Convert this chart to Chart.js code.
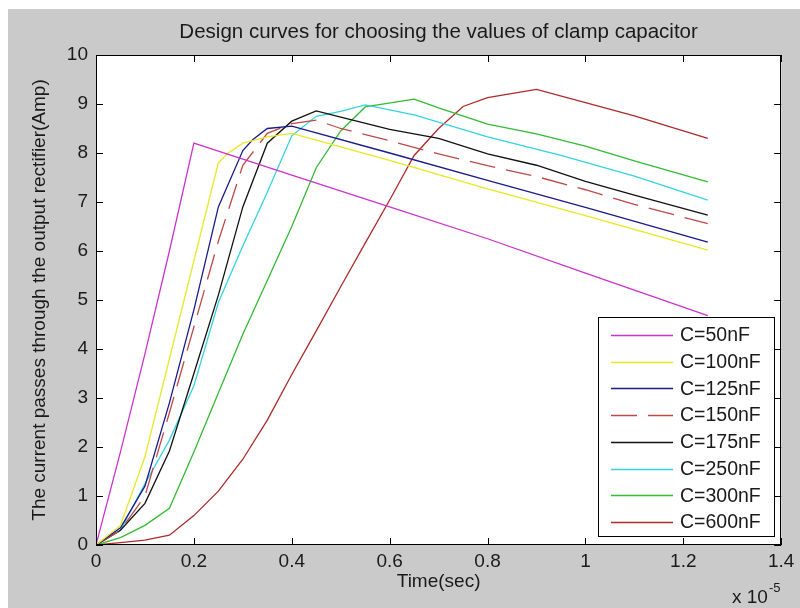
<!DOCTYPE html>
<html>
<head>
<meta charset="utf-8">
<script src="https://cdn.jsdelivr.net/npm/chart.js@4.4.1/dist/chart.umd.min.js"></script>
<style>
  html, body { margin: 0; padding: 0; background: #ffffff; }
  #wrap { width: 800px; height: 608px; position: relative; }
</style>
</head>
<body>
<div id="wrap"><canvas id="c" width="800" height="608"></canvas></div>
<script>
// ---- Data (time in units of 1e-5 s, current in A) ----
const seriesLabels = ['C=50nF', 'C=100nF', 'C=125nF', 'C=150nF', 'C=175nF', 'C=250nF', 'C=300nF', 'C=600nF'];

const t50  = [0, 0.05, 0.1, 0.15, 0.2, 0.4, 0.6, 0.8, 1.0, 1.1, 1.25];
const i50  = [0, 1.9, 3.9, 6.0, 8.2, 7.55, 6.9, 6.25, 5.55, 5.2, 4.68];

const t100 = [0, 0.05, 0.1, 0.15, 0.2, 0.25, 0.27, 0.3, 0.35, 0.4, 0.6, 0.8, 1.0, 1.25];
const i100 = [0, 0.4, 1.8, 3.8, 5.8, 7.8, 8.0, 8.2, 8.33, 8.4, 7.85, 7.27, 6.72, 6.02];

const t125 = [0, 0.05, 0.1, 0.15, 0.2, 0.25, 0.3, 0.32, 0.35, 0.4, 0.6, 0.8, 1.0, 1.25];
const i125 = [0, 0.35, 1.2, 2.9, 4.8, 6.9, 8.05, 8.27, 8.5, 8.55, 8.0, 7.44, 6.89, 6.18];

const t150 = [0, 0.05, 0.1, 0.15, 0.2, 0.25, 0.3, 0.35, 0.4, 0.45, 0.5, 0.6, 0.7, 0.8, 0.9, 1.0, 1.1, 1.25];
const i150 = [0, 0.3, 1.0, 2.7, 4.45, 6.2, 7.75, 8.4, 8.6, 8.67, 8.5, 8.25, 7.98, 7.74, 7.52, 7.25, 6.95, 6.56];

const t175 = [0, 0.05, 0.1, 0.15, 0.2, 0.25, 0.3, 0.35, 0.4, 0.45, 0.5, 0.6, 0.7, 0.8, 0.9, 1.0, 1.1, 1.25];
const i175 = [0, 0.3, 0.85, 1.92, 3.5, 5.1, 6.9, 8.2, 8.65, 8.86, 8.73, 8.48, 8.3, 7.98, 7.75, 7.42, 7.14, 6.73];

const t250 = [0, 0.05, 0.1, 0.15, 0.2, 0.25, 0.3, 0.35, 0.4, 0.45, 0.5, 0.55, 0.65, 0.8, 0.95, 1.1, 1.25];
const i250 = [0, 0.3, 1.25, 2.14, 3.25, 4.95, 6.1, 7.2, 8.35, 8.75, 8.85, 8.98, 8.78, 8.33, 7.95, 7.53, 7.04];

const t300 = [0, 0.05, 0.1, 0.15, 0.2, 0.25, 0.3, 0.35, 0.4, 0.45, 0.5, 0.55, 0.65, 0.7, 0.8, 0.9, 1.0, 1.1, 1.25];
const i300 = [0, 0.15, 0.4, 0.75, 1.9, 3.1, 4.3, 5.4, 6.5, 7.7, 8.45, 8.94, 9.1, 8.92, 8.59, 8.39, 8.14, 7.84, 7.41];

const t600 = [0, 0.05, 0.1, 0.15, 0.2, 0.25, 0.3, 0.35, 0.4, 0.45, 0.5, 0.55, 0.6, 0.65, 0.7, 0.75, 0.8, 0.9, 1.0, 1.1, 1.25];
const i600 = [0, 0.05, 0.1, 0.2, 0.6, 1.1, 1.75, 2.55, 3.48, 4.37, 5.27, 6.16, 7.04, 7.95, 8.5, 8.95, 9.13, 9.3, 9.03, 8.76, 8.3];

const xTickValues = [0, 0.2, 0.4, 0.6, 0.8, 1.0, 1.2, 1.4];
const xTickLabels = ['0', '0.2', '0.4', '0.6', '0.8', '1', '1.2', '1.4'];
const yTickValues = [0, 1, 2, 3, 4, 5, 6, 7, 8, 9, 10];
const yTickLabels = ['0', '1', '2', '3', '4', '5', '6', '7', '8', '9', '10'];

const titleText = 'Design curves for choosing the values of clamp capacitor';
const xTitle = 'Time(sec)';
const yTitle = 'The current passes through the output rectifier(Amp)';
const xExponent = '-5';

// ---- Styles ----
const FONT = "'Liberation Sans', Arial, Helvetica, sans-serif";
const TEXT = '#1a1a1a';
const styles = [
  { color: '#cc33cc', dash: [] },
  { color: '#e8e820', dash: [] },
  { color: '#1a1a8c', dash: [] },
  { color: '#c04848', dash: [26, 11] },
  { color: '#111111', dash: [] },
  { color: '#33d4e0', dash: [] },
  { color: '#33bb33', dash: [] },
  { color: '#b02a2a', dash: [] }
];

const times = [t50, t100, t125, t150, t175, t250, t300, t600];
const currents = [i50, i100, i125, i150, i175, i250, i300, i600];

const datasets = seriesLabels.map((lab, k) => ({
  label: lab,
  data: times[k].map((t, j) => ({ x: t, y: currents[k][j] })),
  borderColor: styles[k].color,
  backgroundColor: styles[k].color,
  borderDash: styles[k].dash,
  borderWidth: 1.3,
  pointRadius: 0,
  tension: 0,
  fill: false
}));

const bgPlugin = {
  id: 'bg',
  beforeDraw(chart) {
    const ctx = chart.ctx;
    ctx.save();
    ctx.fillStyle = '#ffffff';
    ctx.fillRect(0, 0, chart.width, chart.height);
    ctx.fillStyle = '#cacaca';
    ctx.fillRect(8, 9, chart.width - 8, chart.height - 9);
    const a = chart.chartArea;
    ctx.fillStyle = '#ffffff';
    ctx.fillRect(a.left, a.top, a.right - a.left, a.bottom - a.top);
    ctx.restore();
  }
};

const framePlugin = {
  id: 'frame',
  afterDatasetsDraw(chart) {
    const ctx = chart.ctx;
    const a = chart.chartArea;
    const xs = chart.scales.x, ys = chart.scales.y;
    const L = 7;
    ctx.save();
    ctx.strokeStyle = '#000000';
    ctx.lineWidth = 1;
    ctx.setLineDash([]);
    ctx.beginPath();
    xs.ticks.forEach(t => {
      const px = Math.round(xs.getPixelForValue(t.value)) + 0.5;
      ctx.moveTo(px, a.bottom); ctx.lineTo(px, a.bottom - L);
      ctx.moveTo(px, a.top); ctx.lineTo(px, a.top + L);
    });
    ys.ticks.forEach(t => {
      const py = Math.round(ys.getPixelForValue(t.value)) + 0.5;
      ctx.moveTo(a.left, py); ctx.lineTo(a.left + L, py);
      ctx.moveTo(a.right, py); ctx.lineTo(a.right - L, py);
    });
    ctx.stroke();
    ctx.strokeRect(Math.round(a.left) + 0.5, Math.round(a.top) + 0.5,
                   Math.round(a.right - a.left) - 1, Math.round(a.bottom - a.top) - 1);
    ctx.restore();
  },
  afterDraw(chart) {
    const ctx = chart.ctx;
    const a = chart.chartArea;
    // exponent label "x 10^-5"
    ctx.save();
    ctx.fillStyle = TEXT;
    ctx.font = '19px ' + FONT;
    ctx.textBaseline = 'alphabetic';
    ctx.textAlign = 'left';
    ctx.fillText('x 10', 732, 603);
    ctx.font = '13px ' + FONT;
    ctx.fillText(xExponent, 769, 592);
    ctx.restore();

    // legend box
    const box = { left: 598, top: 317, right: 775, bottom: 537 };
    ctx.save();
    ctx.fillStyle = '#ffffff';
    ctx.fillRect(box.left, box.top, box.right - box.left, box.bottom - box.top);
    ctx.strokeStyle = '#000000';
    ctx.lineWidth = 1;
    ctx.strokeRect(box.left + 0.5, box.top + 0.5, box.right - box.left - 1, box.bottom - box.top - 1);
    ctx.font = '19.5px ' + FONT;
    ctx.textBaseline = 'middle';
    ctx.textAlign = 'left';
    chart.data.datasets.forEach((ds, k) => {
      const y = 335 + k * 26.7;
      ctx.strokeStyle = ds.borderColor;
      ctx.lineWidth = 1.3;
      ctx.setLineDash(ds.borderDash || []);
      ctx.beginPath();
      ctx.moveTo(611, Math.round(y) + 0.5);
      ctx.lineTo(673, Math.round(y) + 0.5);
      ctx.stroke();
      ctx.setLineDash([]);
      ctx.fillStyle = TEXT;
      ctx.fillText(ds.label, 680, y + 1);
    });
    ctx.restore();
  }
};

new Chart(document.getElementById('c'), {
  type: 'line',
  data: { datasets },
  options: {
    responsive: false,
    animation: false,
    devicePixelRatio: 1,
    layout: { padding: { left: 0, right: 16, top: 0, bottom: 0 } },
    plugins: {
      legend: { display: false },
      tooltip: { enabled: false },
      title: {
        display: true,
        fullSize: false,
        text: titleText,
        color: TEXT,
        font: { family: FONT, size: 20.5, weight: 'normal', lineHeight: 1.2 },
        padding: { top: 19.7, bottom: 10.7 }
      }
    },
    scales: {
      x: {
        type: 'linear',
        min: 0, max: 1.4,
        afterBuildTicks: s => { s.ticks = xTickValues.map(v => ({ value: v })); },
        afterFit: s => { s.height = 63; },
        grid: { display: false, drawTicks: false },
        border: { display: false },
        ticks: {
          color: TEXT, padding: 5.6, maxRotation: 0, autoSkip: false,
          font: { family: FONT, size: 19 },
          callback: (v, i) => xTickLabels[i]
        },
        title: {
          display: true, text: xTitle, color: TEXT,
          font: { family: FONT, size: 19 },
          padding: { top: 0, bottom: 14.6 }
        }
      },
      y: {
        type: 'linear',
        min: 0, max: 10,
        afterBuildTicks: s => { s.ticks = yTickValues.map(v => ({ value: v })); },
        afterFit: s => { s.width = 96; },
        grid: { display: false, drawTicks: false },
        border: { display: false },
        ticks: {
          color: TEXT, padding: 8, autoSkip: false,
          font: { family: FONT, size: 19 },
          callback: (v, i) => yTickLabels[i]
        },
        title: {
          display: true, text: yTitle, color: TEXT,
          font: { family: FONT, size: 19 },
          padding: { top: 28.6, bottom: 0 }
        }
      }
    }
  },
  plugins: [bgPlugin, framePlugin]
});
</script>
</body>
</html>
